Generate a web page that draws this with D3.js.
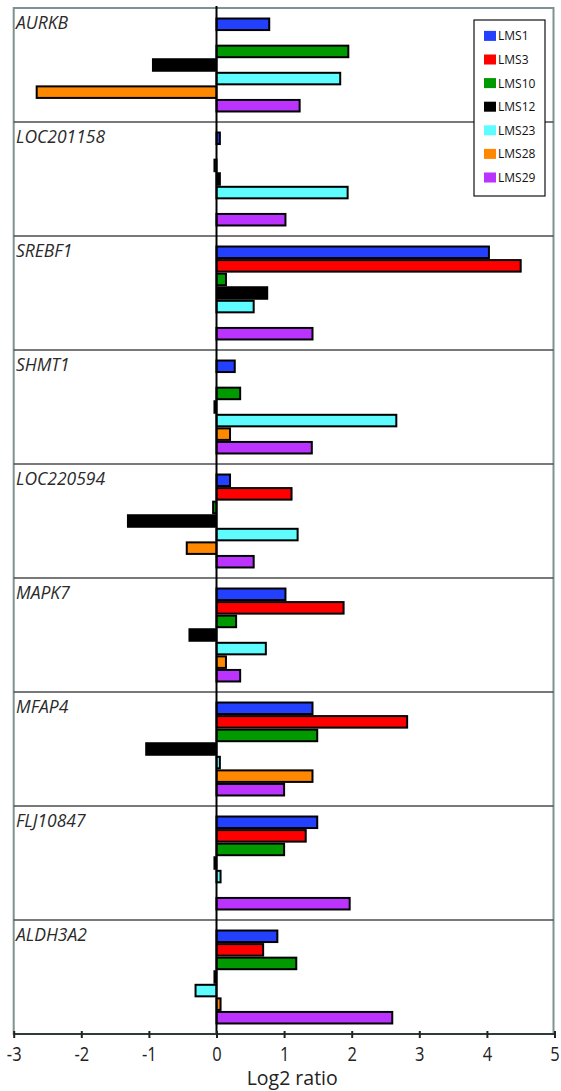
<!DOCTYPE html>
<html>
<head>
<meta charset="utf-8">
<script src="https://cdn.jsdelivr.net/npm/d3@7"></script>
<style>
  html, body { margin: 0; padding: 0; background: #fff; }
  svg { display: block; }
</style>
</head>
<body>
<div id="chart"></div>
<script>
// Genes (one panel each) and the sarcoma lines shown as bars inside every panel
const genes = ["AURKB", "LOC201158", "SREBF1", "SHMT1", "LOC220594", "MAPK7", "MFAP4", "FLJ10847", "ALDH3A2"];
const seriesNames = ["LMS1", "LMS3", "LMS10", "LMS12", "LMS23", "LMS28", "LMS29"];
const seriesColors = ["#2440ff", "#ff0000", "#009a00", "#000000", "#5ffcff", "#ff8800", "#bb33ff"];

// Log2 ratios, one value per gene (null = no measurement)
const LMS1  = [0.78, 0.05, 4.03, 0.27, 0.20, 1.02, 1.42, 1.49, 0.90];
const LMS3  = [null, null, 4.50, null, 1.11, 1.88, 2.82, 1.32, 0.69];
const LMS10 = [1.95, -0.03, 0.14, 0.35, -0.05, 0.29, 1.49, 1.00, 1.18];
const LMS12 = [-0.94, 0.05, 0.75, -0.03, -1.31, -0.40, -1.04, -0.03, -0.03];
const LMS23 = [1.83, 1.94, 0.55, 2.66, 1.20, 0.73, 0.05, 0.06, -0.31];
const LMS28 = [-2.66, null, null, 0.20, -0.44, 0.14, 1.42, null, 0.06];
const LMS29 = [1.23, 1.02, 1.42, 1.41, 0.55, 0.35, 1.00, 1.97, 2.60];
const seriesValues = [LMS1, LMS3, LMS10, LMS12, LMS23, LMS28, LMS29];

const xTicks = [-3, -2, -1, 0, 1, 2, 3, 4, 5];
const xTitle = "Log2 ratio";

const W = 561, H = 1091;
const plotLeft = 13.7, plotRight = 554.5, plotTop = 8, plotBottom = 1034;

const svg = d3.select("#chart").append("svg")
  .attr("width", W).attr("height", H);

const x = d3.scaleLinear().domain([-3, 5]).range([plotLeft, plotRight]);
const panel = d3.scaleBand().domain(genes).range([plotTop, plotBottom]);
const slot = d3.scaleBand().domain(seriesNames)
  .range([9.5, 104.5]).paddingInner(0.15).paddingOuter(0.075);
const color = d3.scaleOrdinal().domain(seriesNames).range(seriesColors);

// Plot frame
svg.append("rect")
  .attr("x", plotLeft).attr("y", plotTop)
  .attr("width", plotRight - plotLeft - 1).attr("height", plotBottom - plotTop)
  .attr("fill", "none").attr("stroke", "#7f9292").attr("stroke-width", 2);

// Panel separators
svg.append("g").selectAll("line")
  .data(genes.slice(1))
  .join("line")
  .attr("x1", plotLeft).attr("x2", plotRight - 1)
  .attr("y1", d => panel(d)).attr("y2", d => panel(d))
  .attr("stroke", "#4d4d4d").attr("stroke-width", 1.6);

// Panels with bars and gene labels
const panels = svg.append("g").selectAll("g")
  .data(genes)
  .join("g")
  .attr("transform", d => `translate(0,${panel(d)})`);

panels.append("text")
  .attr("x", 16).attr("y", 21)
  .attr("font-family", "'Open Sans', sans-serif")
  .attr("font-style", "italic")
  .attr("font-size", 17.5)
  .attr("fill", "#2a2a2a")
  .text(d => d);

panels.selectAll("rect")
  .data((g, gi) => seriesNames.map((s, si) => ({ s, v: seriesValues[si][gi] }))
    .filter(d => d.v !== null))
  .join("rect")
  .attr("x", d => x(Math.min(0, d.v)))
  .attr("width", d => Math.abs(x(d.v) - x(0)))
  .attr("y", d => slot(d.s))
  .attr("height", slot.bandwidth())
  .attr("fill", d => color(d.s))
  .attr("stroke", "#000")
  .attr("stroke-width", 2);

// Zero line
svg.append("line")
  .attr("x1", x(0)).attr("x2", x(0))
  .attr("y1", plotTop - 2).attr("y2", plotBottom)
  .attr("stroke", "#000").attr("stroke-width", 2);

// X axis
const axis = svg.append("g")
  .attr("transform", `translate(0,${plotBottom})`)
  .call(d3.axisBottom(x).tickValues(xTicks).tickFormat(d => String(d))
    .tickSizeInner(4).tickSizeOuter(0).tickPadding(6));
axis.select(".domain").attr("stroke", "#2f3a3a").attr("stroke-width", 2)
  .attr("d", `M${plotLeft},0H${plotRight}`);
axis.selectAll(".tick line").attr("stroke", "#222").attr("stroke-width", 2)
  .attr("y1", -3).attr("y2", 4);
axis.selectAll(".tick text")
  .attr("font-family", "'Open Sans', sans-serif")
  .attr("font-size", 16.5)
  .attr("fill", "#222")
  .attr("y", 0)
  .attr("dy", 0)
  .attr("transform", "translate(0,27) scale(1,1.18)");

svg.append("text")
  .attr("transform", `translate(${x(1.12)},${1085})`)
  .attr("text-anchor", "middle")
  .attr("font-family", "'Open Sans', sans-serif")
  .attr("font-size", 19.5)
  .attr("fill", "#222")
  .text(xTitle);

// Legend
const legend = svg.append("g");
legend.append("rect")
  .attr("x", 474).attr("y", 20).attr("width", 71).attr("height", 176)
  .attr("fill", "#fff").attr("stroke", "#111").attr("stroke-width", 1.2);
const items = legend.selectAll("g.item")
  .data(seriesNames)
  .join("g")
  .attr("class", "item")
  .attr("transform", (d, i) => `translate(0,${35.9 + i * 23.6})`);
items.append("rect")
  .attr("x", 484).attr("y", -5).attr("width", 12).attr("height", 10)
  .attr("fill", d => color(d));
items.append("text")
  .attr("x", 498).attr("y", 4.5)
  .attr("font-family", "'Open Sans', sans-serif")
  .attr("font-size", 12)
  .attr("fill", "#111")
  .text(d => d);
</script>
</body>
</html>
